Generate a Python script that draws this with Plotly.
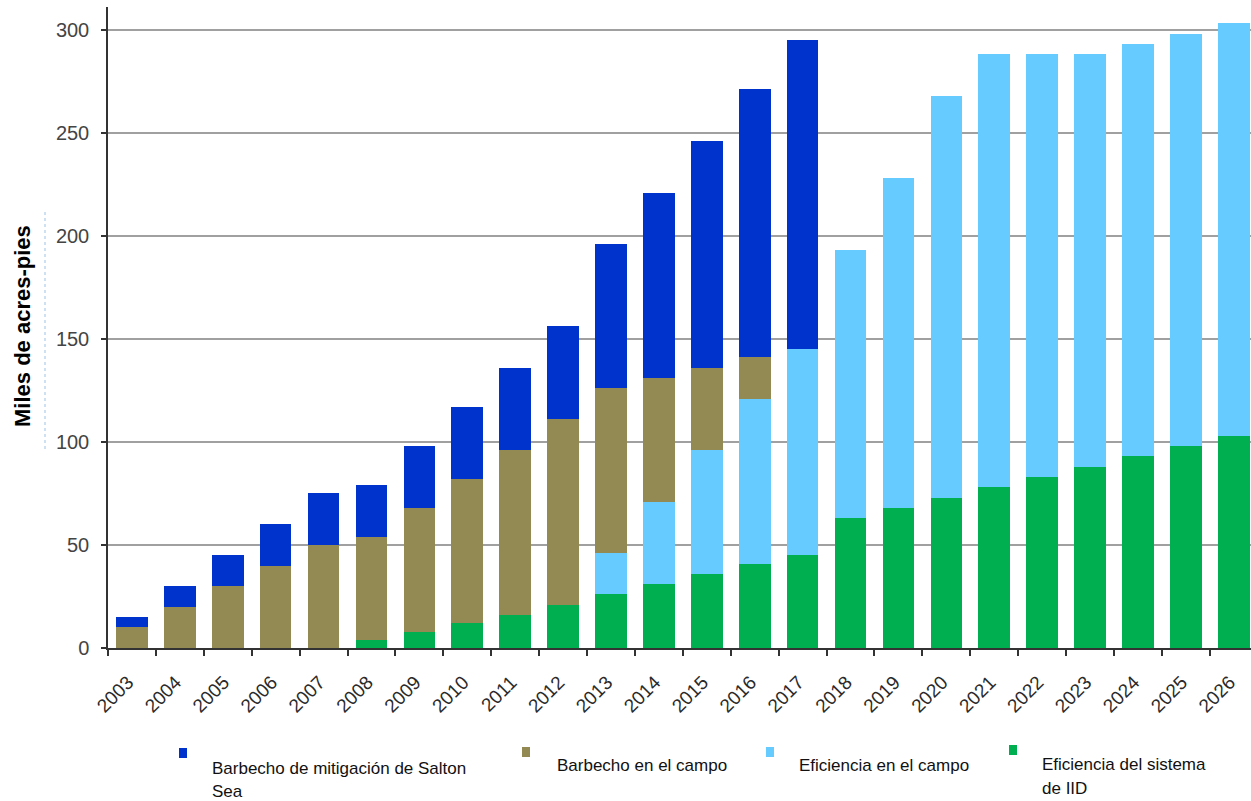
import plotly.graph_objects as go

years = [str(y) for y in range(2003, 2027)]

eficiencia_sistema_iid = [0, 0, 0, 0, 0, 4, 8, 12, 16, 21, 26, 31, 36, 41, 45,
                          63, 68, 73, 78, 83, 88, 93, 98, 103]
eficiencia_campo = [0, 0, 0, 0, 0, 0, 0, 0, 0, 0, 20, 40, 60, 80, 100,
                    130, 160, 195, 210, 205, 200, 200, 200, 200]
barbecho_campo = [10, 20, 30, 40, 50, 50, 60, 70, 80, 90, 80, 60, 40, 20, 0,
                  0, 0, 0, 0, 0, 0, 0, 0, 0]
barbecho_salton = [5, 10, 15, 20, 25, 25, 30, 35, 40, 45, 70, 90, 110, 130, 150,
                   0, 0, 0, 0, 0, 0, 0, 0, 0]

series_names = ["Eficiencia del sistema de IID", "Eficiencia en el campo",
                "Barbecho en el campo", "Barbecho de mitigación de Salton Sea"]
series_values = [eficiencia_sistema_iid, eficiencia_campo, barbecho_campo, barbecho_salton]
series_colors = ["#00B050", "#66CCFF", "#938953", "#0033CC"]

legend_lines = [["Barbecho de mitigación de Salton", "Sea"], ["Barbecho en el campo"],
                ["Eficiencia en el campo"], ["Eficiencia del sistema", "de IID"]]
legend_colors = ["#0033CC", "#938953", "#66CCFF", "#00B050"]

W, H = 1251, 801
L, R, T, B = 108, 0, 7, 153

fig = go.Figure()
for name, vals, col in zip(series_names, series_values, series_colors):
    fig.add_trace(go.Bar(x=years, y=vals, name=name, marker=dict(color=col, line=dict(width=0)),
                         showlegend=False))

fig.update_layout(
    width=W, height=H, barmode="stack", bargap=0.34,
    margin=dict(l=L, r=R, t=T, b=B, pad=0),
    paper_bgcolor="white", plot_bgcolor="white",
    font=dict(family="Liberation Sans, Arial, sans-serif", color="#333333"),
)
fig.update_xaxes(
    type="category", range=[-0.5, 23.36], tickson="boundaries",
    ticks="outside", ticklen=6, tickwidth=1.5, tickcolor="#333333",
    showline=True, linecolor="#333333", linewidth=1.5,
    tickangle=-45, tickfont=dict(size=19, color="#2a2a2a"),
    ticklabelstandoff=14, ticklabelshift=-4,
    showgrid=False, zeroline=False,
)
fig.update_yaxes(
    range=[0, 311], tickvals=[0, 50, 100, 150, 200, 250, 300],
    ticks="outside", ticklen=5, tickwidth=1.5, tickcolor="#333333",
    showline=True, linecolor="#333333", linewidth=1.5,
    showgrid=True, gridcolor="#A0A0A0", gridwidth=1.5,
    tickfont=dict(size=20, color="#444444"), ticklabelstandoff=8, zeroline=False,
)

pw = W - L - R
ph = H - T - B


def px(x):
    return (x - L) / pw


def py(y):
    return (H - B - y) / ph


# y-axis title
fig.add_annotation(xref="paper", yref="paper", x=px(22), y=py(326), text="<b>Miles de acres-pies</b>",
                   textangle=-90, showarrow=False, font=dict(size=22, color="#000000"),
                   xanchor="center", yanchor="middle")
# faint dotted guide line next to the title
fig.add_shape(type="line", xref="paper", yref="paper", x0=px(45), x1=px(45), y0=py(212), y1=py(450),
              line=dict(color="#9DC3E6", width=1, dash="dot"))

# legend drawn manually
marker_x = [179, 522, 766, 1009]
marker_y = [748, 747, 747, 745]
text_x = [210, 555, 797, 1040]
first_line_mid = [768, 765, 765, 764]
line_step = 24
for lines, col, mx, my, tx, ty in zip(legend_lines, legend_colors, marker_x, marker_y, text_x, first_line_mid):
    fig.add_shape(type="rect", xref="paper", yref="paper", x0=px(mx), x1=px(mx + 8),
                  y0=py(my), y1=py(my + 10), fillcolor=col, line=dict(width=0))
    for i, ln in enumerate(lines):
        fig.add_annotation(xref="paper", yref="paper", x=px(tx), y=py(ty + i * line_step), text=ln,
                           align="left", showarrow=False, xanchor="left", yanchor="middle",
                           font=dict(family="Liberation Sans, Arial, sans-serif",
                                     size=17, color="#111111"))

fig.write_html("out.html")
